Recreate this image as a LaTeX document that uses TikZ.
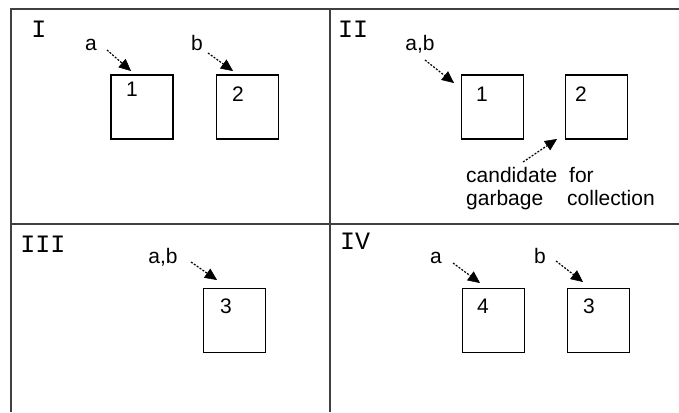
\documentclass[tikz,border=0pt]{standalone}
\usepackage{fontspec}
\setmainfont{Liberation Sans}
\newfontfamily\romfont{Liberation Mono}
\usetikzlibrary{arrows.meta}
\begin{document}
\begin{tikzpicture}[x=1pt,y=-1pt,
  frameline/.style={line width=2pt,draw=black!75},
  objbox/.style={draw=black,line width=1.5pt,minimum width=62pt,minimum height=64pt,inner sep=0pt},
  txt/.style={font=\fontsize{21}{23}\selectfont,inner sep=0pt},
  roman/.style={font=\romfont\fontsize{25}{27}\selectfont,inner sep=0pt},
  ptr/.style={line width=1.2pt,dash pattern=on 2pt off 1.5pt,-{Triangle[length=12pt,width=11pt,line width=0.5pt]}}]
\useasboundingbox (0,0) rectangle (679,412);
\fill[white] (0,0) rectangle (679,412);
% frame
\coordinate (tl) at (11,9);
\coordinate (tr) at (679,9);
\coordinate (bl) at (11,412);
\coordinate (mt) at (330,9);
\coordinate (mb) at (330,412);
\coordinate (ml) at (11,224);
\coordinate (mr) at (679,224);
\draw[frameline] (tr) -- (tl) -- (bl);
\draw[frameline] (mt) -- (mb);
\draw[frameline] (ml) -- (mr);
% Panel I
\node[roman] (rI) at (39,29) {I};
\node[objbox] (p1b1) at (142,107) {};
\node[objbox] (p1b2) at (247.5,107) {};
\node[txt] (p1n1) at (132,89) {1};
\node[txt] (p1n2) at (238,94) {2};
\node[txt,anchor=base] (p1a) at (91,50) {a};
\node[txt,anchor=base] (p1b) at (197,50) {b};
\coordinate (p1aS) at (107,50);
\coordinate (p1aT) at (131,71);
\coordinate (p1bS) at (208,53);
\coordinate (p1bT) at (233,71);
\draw[ptr] (p1aS) -- (p1aT);
\draw[ptr] (p1bS) -- (p1bT);
% Panel II
\node[roman] (rII) at (353,29) {II};
\node[objbox] (p2b1) at (492.5,107) {};
\node[objbox] (p2b2) at (596.5,107) {};
\node[txt] (p2n1) at (482,94) {1};
\node[txt] (p2n2) at (581,94) {2};
\node[txt,anchor=base] (p2ab) at (420,50) {a,b};
\coordinate (p2abS) at (425,60);
\coordinate (p2abT) at (454,83);
\draw[ptr] (p2abS) -- (p2abT);
\node[txt,anchor=base west] (c1) at (466,182) {candidate};
\node[txt,anchor=base west] (c2) at (569,182) {for};
\node[txt,anchor=base west] (c3) at (466,205) {garbage};
\node[txt,anchor=base west] (c4) at (567,205) {collection};
\coordinate (p2gS) at (523,162);
\coordinate (p2gT) at (557,139);
\draw[ptr] (p2gS) -- (p2gT);
% Panel III
\node[roman] (rIII) at (43,244) {III};
\node[objbox] (p3b1) at (234.5,320.5) {};
\node[txt] (p3n1) at (226,306) {3};
\node[txt,anchor=base] (p3ab) at (163,263) {a,b};
\coordinate (p3abS) at (191,262);
\coordinate (p3abT) at (217,280);
\draw[ptr] (p3abS) -- (p3abT);
% Panel IV
\node[roman] (rIV) at (355,241) {IV};
\node[objbox] (p4b1) at (493.5,320.5) {};
\node[objbox] (p4b2) at (598.5,320.5) {};
\node[txt] (p4n1) at (483,306) {4};
\node[txt] (p4n2) at (589,306) {3};
\node[txt,anchor=base] (p4a) at (436,263) {a};
\node[txt,anchor=base] (p4b) at (540,263) {b};
\coordinate (p4aS) at (453,263);
\coordinate (p4aT) at (480,283);
\coordinate (p4bS) at (556,261);
\coordinate (p4bT) at (583,282);
\draw[ptr] (p4aS) -- (p4aT);
\draw[ptr] (p4bS) -- (p4bT);
\end{tikzpicture}
\end{document}
